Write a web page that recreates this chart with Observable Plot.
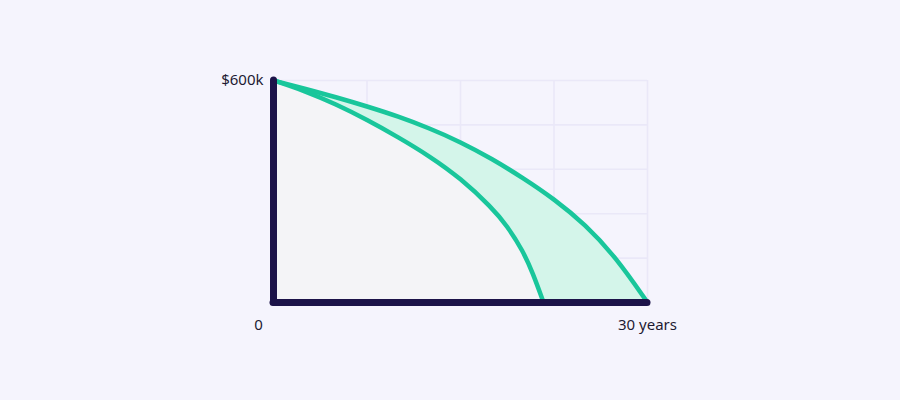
<!DOCTYPE html>
<html>
<head>
<meta charset="utf-8">
<script src="https://cdn.jsdelivr.net/npm/d3@7"></script>
<script src="https://cdn.jsdelivr.net/npm/@observablehq/plot@0.6"></script>
<style>
  html, body { margin: 0; padding: 0; background: #f5f4fd; }
  #chart { width: 900px; height: 400px; }
  svg { display: block; }
</style>
</head>
<body>
<div id="chart"></div>
<script>
// Years and balances ($k)
const outerYears = [0, 2.5, 5, 7.5, 10, 12.5, 15, 17.5, 20, 22.5, 25, 27.5, 30];
const outerValues = [600, 578, 555, 530, 503, 471, 434, 389, 337, 280, 211, 121, 0];
const innerYears = [0, 2.5, 5, 7.5, 10, 12.5, 15, 17.5, 18.75, 20, 20.8, 21.66];
const innerValues = [600, 572, 536, 494, 447, 396, 336, 257, 207, 140, 80, 0];
const xGrid = [7.5, 15, 22.5, 30];
const yGrid = [120, 240, 360, 480, 600];
const yLabels = [{x: 0, y: 600, text: "$600k"}];
const originLabel = [{x: 0, y: 0, text: "0"}];
const endLabel = [{x: 30, y: 0, text: "30 years"}];

const outer = outerYears.map((x, i) => ({x, y: outerValues[i]}));
const inner = innerYears.map((x, i) => ({x, y: innerValues[i]}));

const green = "#19c69b";
const navy = "#1c1349";
const ink = "#1d1a33";

const chart = Plot.plot({
  width: 900,
  height: 400,
  marginLeft: 273,
  marginRight: 253,
  marginTop: 80,
  marginBottom: 98,
  style: {background: "#f5f4fd", fontFamily: "'Noto Sans', 'Open Sans', sans-serif", fontSize: "15px", color: ink},
  x: {domain: [0, 30], axis: null},
  y: {domain: [0, 600], axis: null},
  marks: [
    Plot.ruleX(xGrid, {stroke: "#eae8f8", strokeWidth: 1.6}),
    Plot.ruleY(yGrid, {stroke: "#eae8f8", strokeWidth: 1.6}),
    Plot.areaY(outer, {x: "x", y: "y", fill: "#d4f5ea", curve: "basis"}),
    Plot.areaY(inner, {x: "x", y: "y", fill: "#f4f4f7", curve: "basis"}),
    Plot.line(inner, {x: "x", y: "y", stroke: green, strokeWidth: 4.5, curve: "basis"}),
    Plot.line(outer, {x: "x", y: "y", stroke: green, strokeWidth: 4.5, curve: "basis"}),
    Plot.ruleX([0], {y1: 0, y2: 600, stroke: navy, strokeWidth: 7, strokeLinecap: "round"}),
    Plot.ruleY([0], {x1: 0, x2: 30, stroke: navy, strokeWidth: 7, strokeLinecap: "round"}),
    Plot.text(yLabels, {x: "x", y: "y", text: "text", textAnchor: "end", dx: -10, fill: ink, fontSize: 15}),
    Plot.text(originLabel, {x: "x", y: "y", text: "text", dx: -15, dy: 23, fill: ink, fontSize: 15}),
    Plot.text(endLabel, {x: "x", y: "y", text: "text", dx: 0, dy: 23, fill: ink, fontSize: 15})
  ]
});
document.getElementById("chart").appendChild(chart);
</script>
</body>
</html>
